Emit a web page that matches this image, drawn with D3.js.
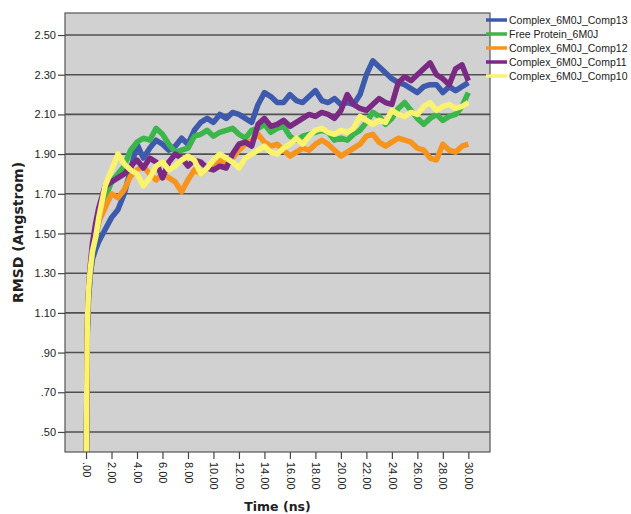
<!DOCTYPE html>
<html>
<head>
<meta charset="utf-8">
<script src="https://cdn.jsdelivr.net/npm/d3@7"></script>
<style>
  body { margin: 0; background: #fff; }
  svg text { font-family: "Liberation Sans", Arial, sans-serif; fill: #222; }
</style>
</head>
<body>
<svg id="chart" width="631" height="514"></svg>
<script>
// time in ns
var time = [0, 0.05, 0.1, 0.2, 0.35, 0.5, 0.75,
  1, 1.5, 2, 2.5, 3, 3.5, 4, 4.5, 5, 5.5,
  6, 6.5, 7, 7.5, 8, 8.5, 9, 9.5, 10, 10.5,
  11, 11.5, 12, 12.5, 13, 13.5, 14, 14.5, 15, 15.5,
  16, 16.5, 17, 17.5, 18, 18.5, 19, 19.5, 20, 20.5,
  21, 21.5, 22, 22.5, 23, 23.5, 24, 24.5, 25, 25.5,
  26, 26.5, 27, 27.5, 28, 28.5, 29, 29.5, 30];

// RMSD (Angstrom)
var comp13 = [0, 0.55, 1.0, 1.18, 1.3, 1.37, 1.42,
  1.46, 1.52, 1.58, 1.62, 1.70, 1.82, 1.95, 1.88, 1.93, 1.97,
  1.95, 1.92, 1.94, 1.98, 1.95, 2.02, 2.06, 2.08, 2.06, 2.10,
  2.08, 2.11, 2.10, 2.08, 2.06, 2.15, 2.21, 2.19, 2.16, 2.16,
  2.20, 2.17, 2.16, 2.19, 2.22, 2.17, 2.16, 2.18, 2.15, 2.16,
  2.15, 2.20, 2.30, 2.37, 2.34, 2.31, 2.28, 2.26, 2.25, 2.23,
  2.21, 2.24, 2.25, 2.25, 2.21, 2.24, 2.22, 2.24, 2.26];

var freeProtein = [0, 0.6, 1.02, 1.2, 1.32, 1.4, 1.48,
  1.56, 1.68, 1.76, 1.80, 1.84, 1.92, 1.96, 1.98, 1.97, 2.03,
  2.00, 1.95, 1.91, 1.92, 1.93, 1.99, 2.00, 2.02, 1.99, 2.01,
  2.02, 2.03, 2.00, 1.98, 2.02, 2.03, 2.05, 2.01, 2.03, 2.04,
  1.99, 1.97, 1.99, 2.00, 2.01, 2.02, 2.01, 1.97, 1.98, 1.97,
  2.00, 2.02, 2.06, 2.11, 2.09, 2.05, 2.08, 2.13, 2.16, 2.12,
  2.08, 2.05, 2.08, 2.10, 2.07, 2.09, 2.10, 2.14, 2.21];

var comp12 = [0, 0.6, 1.03, 1.21, 1.33, 1.42, 1.5,
  1.56, 1.63, 1.70, 1.68, 1.72, 1.79, 1.82, 1.84, 1.80, 1.77,
  1.80, 1.78, 1.76, 1.71, 1.77, 1.82, 1.80, 1.83, 1.85, 1.87,
  1.85, 1.88, 1.92, 1.95, 1.97, 2.00, 1.96, 1.94, 1.95, 1.92,
  1.89, 1.91, 1.93, 1.92, 1.95, 1.97, 1.95, 1.92, 1.89, 1.91,
  1.93, 1.95, 1.99, 2.00, 1.96, 1.94, 1.96, 1.98, 1.97, 1.96,
  1.93, 1.92, 1.88, 1.87, 1.95, 1.92, 1.91, 1.94, 1.95];

var comp11 = [0, 0.6, 1.04, 1.22, 1.35, 1.45, 1.55,
  1.63, 1.74, 1.76, 1.78, 1.80, 1.84, 1.87, 1.83, 1.88, 1.86,
  1.78, 1.86, 1.90, 1.88, 1.84, 1.87, 1.86, 1.83, 1.82, 1.84,
  1.83, 1.90, 1.95, 1.96, 1.94, 2.05, 2.08, 2.04, 2.05, 2.07,
  2.04, 2.06, 2.08, 2.10, 2.09, 2.11, 2.10, 2.08, 2.12, 2.20,
  2.15, 2.13, 2.12, 2.15, 2.18, 2.16, 2.15, 2.26, 2.29, 2.27,
  2.30, 2.33, 2.36, 2.30, 2.28, 2.25, 2.33, 2.35, 2.27];

var comp10 = [0, 0.62, 1.05, 1.22, 1.33, 1.41, 1.48,
  1.58, 1.74, 1.82, 1.90, 1.85, 1.82, 1.80, 1.74, 1.78, 1.84,
  1.86, 1.82, 1.84, 1.87, 1.89, 1.87, 1.80, 1.83, 1.87, 1.90,
  1.88, 1.86, 1.83, 1.88, 1.90, 1.92, 1.94, 1.91, 1.90, 1.93,
  1.95, 1.98, 1.95, 1.99, 2.02, 2.03, 2.01, 2.00, 2.02, 2.01,
  2.03, 2.09, 2.07, 2.05, 2.07, 2.06, 2.12, 2.10, 2.09, 2.11,
  2.10, 2.14, 2.16, 2.12, 2.14, 2.15, 2.13, 2.14, 2.16];

var seriesNames = ['Complex_6M0J_Comp13', 'Free Protein_6M0J', 'Complex_6M0J_Comp12',
                   'Complex_6M0J_Comp11', 'Complex_6M0J_Comp10'];
var seriesValues = [comp13, freeProtein, comp12, comp11, comp10];
var seriesColors = ['#3d5aad', '#3cb54a', '#f7941d', '#7b2a84', '#faf36e'];

var xTicks = [0, 2, 4, 6, 8, 10, 12, 14, 16, 18, 20, 22, 24, 26, 28, 30];
var yTicks = [0.5, 0.7, 0.9, 1.1, 1.3, 1.5, 1.7, 1.9, 2.1, 2.3, 2.5];

(function() {

  var svg = d3.select('#chart');
  var left = 65, right = 490, top = 13, bottom = 452;

  var x = d3.scaleLinear().domain([-1.65, 31.7]).range([left, right]);
  var y = d3.scaleLinear().domain([0.399, 2.611]).range([bottom, top]);

  // SPSS style: drop the leading zero
  var fmt = function(d) { return d3.format('.2f')(d).replace(/^0/, ''); };

  svg.append('rect')
    .attr('x', left).attr('y', top)
    .attr('width', right - left).attr('height', bottom - top)
    .attr('fill', '#d1d1d1');

  // grid lines
  svg.append('g').selectAll('line')
    .data(yTicks)
    .join('line')
      .attr('x1', left).attr('x2', right)
      .attr('y1', function(d) { return y(d); })
      .attr('y2', function(d) { return y(d); })
      .attr('stroke', '#505050')
      .attr('stroke-width', 1.6);

  svg.append('clipPath').attr('id', 'plot-clip')
    .append('rect')
      .attr('x', left).attr('y', top)
      .attr('width', right - left).attr('height', bottom - top);

  var line = d3.line()
    .x(function(d) { return x(d[0]); })
    .y(function(d) { return y(d[1]); });

  var lines = svg.append('g').attr('clip-path', 'url(#plot-clip)');
  seriesValues.forEach(function(values, i) {
    var pts = time.map(function(t, j) { return [t, values[j]]; });
    lines.append('path')
      .datum(pts)
      .attr('d', line)
      .attr('fill', 'none')
      .attr('stroke', seriesColors[i])
      .attr('stroke-width', 5.5)
      .attr('stroke-linejoin', 'round');
  });

  // frame
  svg.append('rect')
    .attr('x', left).attr('y', top)
    .attr('width', right - left).attr('height', bottom - top)
    .attr('fill', 'none')
    .attr('stroke', '#555')
    .attr('stroke-width', 1.2);

  var yAxis = svg.append('g')
    .attr('transform', 'translate(' + left + ',0)')
    .call(d3.axisLeft(y).tickValues(yTicks).tickFormat(fmt).tickSize(7).tickPadding(2));

  var xAxis = svg.append('g')
    .attr('transform', 'translate(0,' + bottom + ')')
    .call(d3.axisBottom(x).tickValues(xTicks).tickFormat(fmt).tickSize(7).tickPadding(3));

  [yAxis, xAxis].forEach(function(g) {
    g.select('.domain').remove();
    g.selectAll('.tick line').attr('stroke', '#444').attr('stroke-width', 1.2);
    g.selectAll('.tick text')
      .attr('font-family', '"Liberation Sans", Arial, sans-serif')
      .attr('font-size', 11)
      .attr('fill', '#222');
  });

  // rotated time labels, reading top to bottom
  xAxis.selectAll('.tick text')
    .attr('transform', 'rotate(90)')
    .attr('text-anchor', 'start')
    .attr('x', 10)
    .attr('y', 0)
    .attr('dy', '0.35em');

  svg.append('text')
    .attr('transform', 'translate(23,' + ((top + bottom) / 2) + ') rotate(-90)')
    .attr('text-anchor', 'middle')
    .style('font-family', '"DejaVu Sans", sans-serif')
    .style('font-weight', 'bold')
    .style('font-size', '14px')
    .text('RMSD (Angstrom)');

  svg.append('text')
    .attr('x', (left + right) / 2)
    .attr('y', 511)
    .attr('text-anchor', 'middle')
    .style('font-family', '"DejaVu Sans", sans-serif')
    .style('font-weight', 'bold')
    .style('font-size', '12.5px')
    .text('Time (ns)');

  // legend
  var legend = svg.append('g').selectAll('g')
    .data(seriesNames)
    .join('g')
      .attr('transform', function(d, i) { return 'translate(486,' + (20 + i * 14) + ')'; });

  legend.append('line')
    .attr('x1', 0).attr('x2', 21)
    .attr('stroke', function(d, i) { return seriesColors[i]; })
    .attr('stroke-width', 3.5);

  legend.append('text')
    .attr('x', 23)
    .attr('dy', '0.35em')
    .style('font-size', '10.5px')
    .text(function(d) { return d; });

})();
</script>
</body>
</html>
